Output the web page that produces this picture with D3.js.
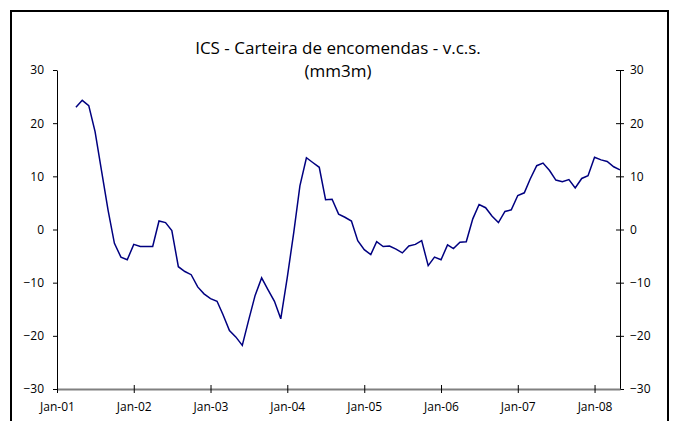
<!DOCTYPE html>
<meta charset="utf-8">
<style>
body { margin: 0; background: #fff; }
svg { display: block; font-family: "Open Sans", sans-serif; }
.axis text { font-size: 12px; fill: #000; font-family: "Open Sans", sans-serif; }
.line { fill: none; stroke: #000080; stroke-width: 1.5px; }
</style>
<svg width="674" height="421"></svg>
<script src="https://d3js.org/d3.v7.min.js"></script>
<script>

// ICS - order books, monthly, Apr-01 .. May-08
var firstMonth = "2001-04";
var values = [
  23.0, 24.3, 23.3, 18.4, 11.0, 3.6, -2.6, -5.2, -5.7,
  -2.8, -3.2, -3.2, -3.2, 1.6, 1.3, -0.2, -7.0, -7.9, -8.5, -10.8, -12.1,
  -13.0, -13.5, -16.0, -19.0, -20.2, -21.8, -17.1, -12.4, -9.1, -11.3, -13.5, -16.8,
  -9.0, -0.5, 8.2, 13.5, 12.6, 11.7, 5.6, 5.7, 2.9, 2.3, 1.6, -2.1,
  -3.8, -4.7, -2.3, -3.2, -3.1, -3.7, -4.4, -3.1, -2.8, -2.1, -6.8, -5.2,
  -5.7, -2.9, -3.6, -2.4, -2.3, 2.0, 4.7, 4.1, 2.5, 1.3, 3.4, 3.7,
  6.4, 6.9, 9.5, 12.0, 12.5, 11.1, 9.3, 9.0, 9.4, 7.8, 9.6, 10.1,
  13.6, 13.1, 12.8, 11.8, 11.2
];
var xTickLabels = ["Jan-01", "Jan-02", "Jan-03", "Jan-04", "Jan-05", "Jan-06", "Jan-07", "Jan-08"];
var yTicks = [-30, -20, -10, 0, 10, 20, 30];
var titleLines = ["ICS - Carteira de encomendas - v.c.s.", "(mm3m)"];

var parseMonth = d3.timeParse("%Y-%m"),
    parseTick = d3.timeParse("%b-%y"),
    start = parseMonth(firstMonth);

var data = values.map(function(v, i) {
  return {date: d3.timeMonth.offset(start, i), value: v};
});

var svg = d3.select("svg"),
    plotLeft = 57, plotRight = 620, plotTop = 70, plotBottom = 389;

// outer frame
svg.append("rect")
    .attr("x", 11).attr("y", 11)
    .attr("width", 657).attr("height", 430)
    .attr("fill", "none")
    .attr("stroke", "#000")
    .attr("stroke-width", 2);

var x = d3.scaleTime()
    .domain([parseTick(xTickLabels[0]), data[data.length - 1].date])
    .range([plotLeft, plotRight]);

var y = d3.scaleLinear().domain([-30, 30]).range([plotBottom, plotTop]);

var line = d3.line()
    .x(function(d) { return x(d.date); })
    .y(function(d) { return y(d.value); });

// left axis
var yl = svg.append("g")
    .attr("class", "axis")
    .attr("transform", "translate(" + plotLeft + ",0)")
    .call(d3.axisLeft(y).tickValues(yTicks).tickSize(4).tickPadding(9).tickSizeOuter(0));
yl.attr("font-family", null);
yl.select(".domain").attr("stroke", "#000");

// right axis, ticks crossing the line
var yr = svg.append("g")
    .attr("class", "axis")
    .attr("transform", "translate(" + plotRight + ",0)")
    .call(d3.axisRight(y).tickValues(yTicks).tickSize(4).tickPadding(6).tickSizeOuter(0));
yr.attr("font-family", null);
yr.selectAll(".tick line").attr("x1", -4);
yr.select(".domain").attr("stroke", "#000");

// x axis
var xa = svg.append("g")
    .attr("class", "axis")
    .attr("transform", "translate(0," + plotBottom + ")")
    .call(d3.axisBottom(x)
      .tickValues(xTickLabels.map(parseTick))
      .tickFormat(d3.timeFormat("%b-%y"))
      .tickSize(4).tickPadding(9).tickSizeOuter(0));
xa.attr("font-family", null);
xa.selectAll(".tick line").attr("y1", -4);
xa.select(".domain").attr("stroke", "#808080").attr("stroke-width", 2);

svg.append("path")
    .datum(data)
    .attr("class", "line")
    .attr("d", line);

svg.selectAll(".title")
  .data(titleLines)
  .enter().append("text")
    .attr("class", "title")
    .attr("x", 338)
    .attr("y", function(d, i) { return 54 + i * 23; })
    .attr("text-anchor", "middle")
    .style("font-size", "17px")
    .text(function(d) { return d; });

</script>
